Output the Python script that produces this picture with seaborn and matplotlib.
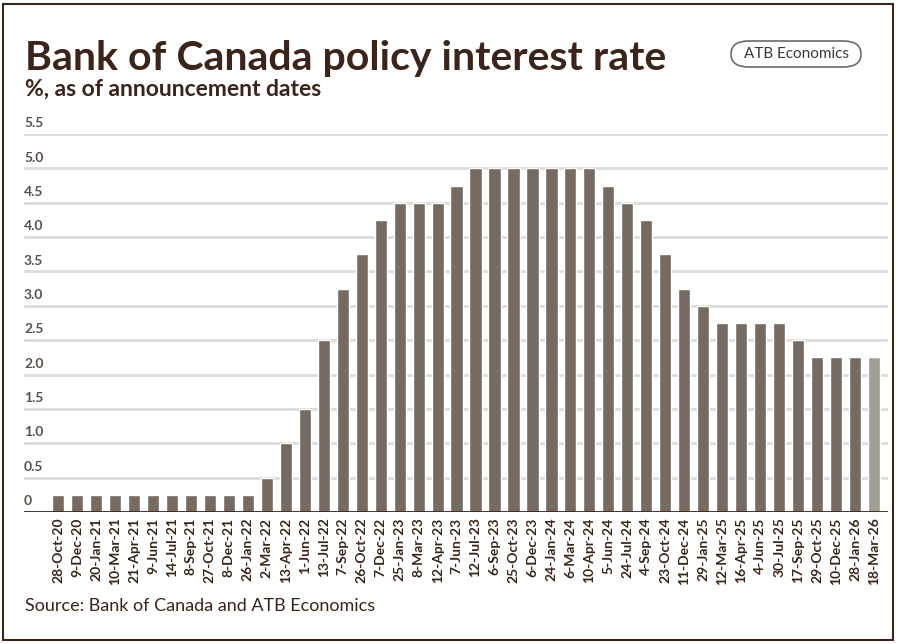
import numpy as np
import pandas as pd
import matplotlib
matplotlib.use('Agg')
import matplotlib.pyplot as plt
from matplotlib.patches import FancyBboxPatch, Rectangle
import seaborn as sns

# data
dates = ['28-Oct-20', '9-Dec-20', '20-Jan-21', '10-Mar-21', '21-Apr-21', '9-Jun-21',
         '14-Jul-21', '8-Sep-21', '27-Oct-21', '8-Dec-21', '26-Jan-22', '2-Mar-22',
         '13-Apr-22', '1-Jun-22', '13-Jul-22', '7-Sep-22', '26-Oct-22', '7-Dec-22',
         '25-Jan-23', '8-Mar-23', '12-Apr-23', '7-Jun-23', '12-Jul-23', '6-Sep-23',
         '25-Oct-23', '6-Dec-23', '24-Jan-24', '6-Mar-24', '10-Apr-24', '5-Jun-24',
         '24-Jul-24', '4-Sep-24', '23-Oct-24', '11-Dec-24', '29-Jan-25', '12-Mar-25',
         '16-Apr-25', '4-Jun-25', '30-Jul-25', '17-Sep-25', '29-Oct-25', '10-Dec-25',
         '28-Jan-26', '18-Mar-26']
rates = [0.25, 0.25, 0.25, 0.25, 0.25, 0.25, 0.25, 0.25, 0.25, 0.25, 0.25, 0.5,
         1.0, 1.5, 2.5, 3.25, 3.75, 4.25, 4.5, 4.5, 4.5, 4.75, 5.0, 5.0,
         5.0, 5.0, 5.0, 5.0, 5.0, 4.75, 4.5, 4.25, 3.75, 3.25, 3.0, 2.75,
         2.75, 2.75, 2.75, 2.5, 2.25, 2.25, 2.25, 2.25]
y_ticks = [0, 0.5, 1.0, 1.5, 2.0, 2.5, 3.0, 3.5, 4.0, 4.5, 5.0, 5.5]
y_tick_labels = ['0', '0.5', '1.0', '1.5', '2.0', '2.5', '3.0', '3.5', '4.0', '4.5', '5.0', '5.5']

df = pd.DataFrame({'date': dates, 'rate': rates})

sns.set_style('white')
plt.rcParams['font.family'] = ['Lato', 'DejaVu Sans']

bar_col = '#756b63'
last_col = '#a39d97'
brown = '#3b2419'
palette = [bar_col] * (len(dates) - 1) + [last_col]

fig = plt.figure(figsize=(8.98, 6.44), dpi=100)
ax = fig.add_axes([24 / 898, 1 - 512 / 644, 864 / 898, 378 / 644])

sns.barplot(data=df, x='date', y='rate', hue='date', palette=palette,
            legend=False, width=0.64, saturation=1, ax=ax, zorder=3)

ax.set_ylim(0, 5.5)
ax.set_xlim(-1.8, len(dates) - 0.26)
for t in y_ticks[1:]:
    ax.axhline(t, color='#dcdcdc', lw=2, zorder=1)
ax.axhline(0, color=brown, lw=2, zorder=4)
for s in ax.spines.values():
    s.set_visible(False)

ax.set_yticks([])
for t, lab in zip(y_ticks, y_tick_labels):
    ax.text(0, t + 0.07, lab, transform=ax.get_yaxis_transform(),
            ha='left', va='bottom', fontsize=10, fontweight='bold', color='#5a504a')

ax.set_xlabel('')
ax.set_ylabel('')
ax.tick_params(axis='x', length=0, pad=4)
plt.setp(ax.get_xticklabels(), rotation=90, fontsize=10, fontweight='bold', color=brown)

fig.text(25 / 898, 1 - 70 / 644, 'Bank of Canada policy interest rate', fontsize=29.5,
         fontweight='bold', color=brown, ha='left', va='baseline')
fig.text(25 / 898, 1 - 96 / 644, '%, as of announcement dates', fontsize=16.5,
         fontweight='bold', color=brown, ha='left', va='baseline')
fig.text(25 / 898, 1 - 611 / 644, 'Source: Bank of Canada and ATB Economics', fontsize=13,
         color=brown, ha='left', va='baseline')

badge = FancyBboxPatch((731 / 898, 1 - 67 / 644), 130 / 898, 26 / 644,
                       boxstyle='round,pad=0,rounding_size=0.02', transform=fig.transFigure,
                       facecolor='white', edgecolor='#6a6a6a', lw=1.2)
fig.patches.append(badge)
fig.text(796 / 898, 1 - 54 / 644, 'ATB Economics', fontsize=11, color='#3a3a3a',
         ha='center', va='center')

frame = Rectangle((3 / 898, 4 / 644), 890 / 898, 636 / 644, transform=fig.transFigure,
                  facecolor='none', edgecolor=brown, lw=1.5)
fig.patches.append(frame)

fig.savefig('out.png', dpi=100)
